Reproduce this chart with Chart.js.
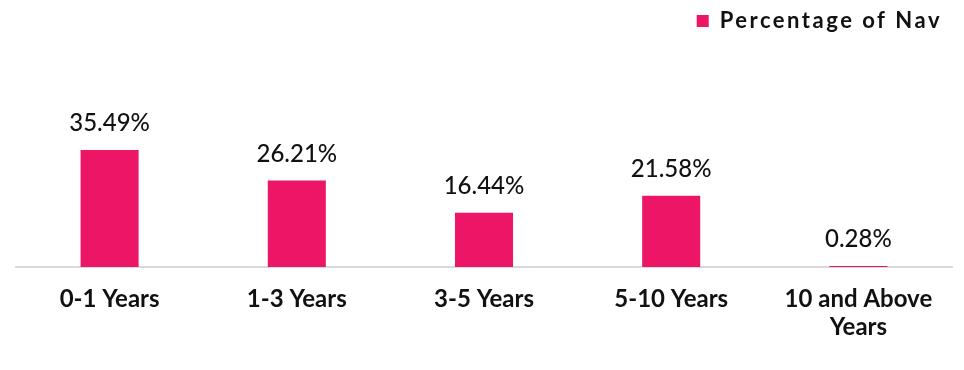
<!DOCTYPE html>
<html>
<head>
<meta charset="utf-8">
<script src="https://cdn.jsdelivr.net/npm/chart.js@4.4.1/dist/chart.umd.min.js"></script>
<style>
  html, body { margin: 0; padding: 0; background: #fff; }
  #wrap { width: 964px; height: 370px; }
</style>
</head>
<body>
<div id="wrap"><canvas id="chart"></canvas></div>
<script>
const categories = ["0-1 Years", "1-3 Years", "3-5 Years", "5-10 Years", ["10 and Above", "Years"]];
const navValues = [35.49, 26.21, 16.44, 21.58, 0.28];
const seriesName = "Percentage of Nav";

const barColor = "#ED1566";

// draws the % labels above each bar
const valueLabels = {
    id: 'valueLabels',
    afterDatasetsDraw(chart) {
        let ctx = chart.ctx;
        let meta = chart.getDatasetMeta(0);
        ctx.save();
        ctx.font = "500 24px Lato";
        ctx.fillStyle = "#111111";
        ctx.textAlign = "center";
        ctx.textBaseline = "alphabetic";
        meta.data.forEach((bar, i) => {
            ctx.fillText(navValues[i].toFixed(2) + "%", bar.x, bar.y - 19);
        });
        ctx.restore();
    }
};

// letter spaced legend + extra room under it
const legendTweak = {
    id: 'legendTweak',
    beforeInit(chart) {
        let legend = chart.legend;
        let fit = legend.fit;
        let draw = legend.draw;
        legend.fit = function () {
            this.ctx.letterSpacing = "2.5px";
            fit.call(this);
            this.ctx.letterSpacing = "0px";
            this.height += 93;
        };
        legend.draw = function () {
            this.ctx.letterSpacing = "2.5px";
            draw.call(this);
            this.ctx.letterSpacing = "0px";
        };
    }
};

let ctx = document.getElementById('chart').getContext('2d');
new Chart(ctx, {
    type: 'bar',
    data: {
        labels: categories,
        datasets: [{
            label: seriesName,
            data: navValues,
            backgroundColor: barColor,
            borderWidth: 0,
            categoryPercentage: 1,
            barPercentage: 0.31
        }]
    },
    options: {
        responsive: true,
        maintainAspectRatio: false,
        animation: false,
        layout: { padding: { left: 16, right: 12, top: 0, bottom: 11 } },
        scales: {
            x: {
                grid: { display: false, drawTicks: false },
                border: { display: true, color: "#d9d9d9", width: 2 },
                ticks: {
                    color: "#111111",
                    padding: 18,
                    maxRotation: 0,
                    autoSkip: false,
                    font: { family: "Lato", size: 24, weight: "bold", lineHeight: 1.167 }
                }
            },
            y: {
                display: false,
                min: 0,
                max: 40
            }
        },
        plugins: {
            legend: {
                position: 'top',
                align: 'end',
                labels: {
                    color: "#111111",
                    boxWidth: 12,
                    boxHeight: 12,
                    padding: 10,
                    font: { family: "Lato", size: 22, weight: "bold" }
                }
            },
            tooltip: { enabled: false }
        }
    },
    plugins: [valueLabels, legendTweak]
});
</script>
</body>
</html>
